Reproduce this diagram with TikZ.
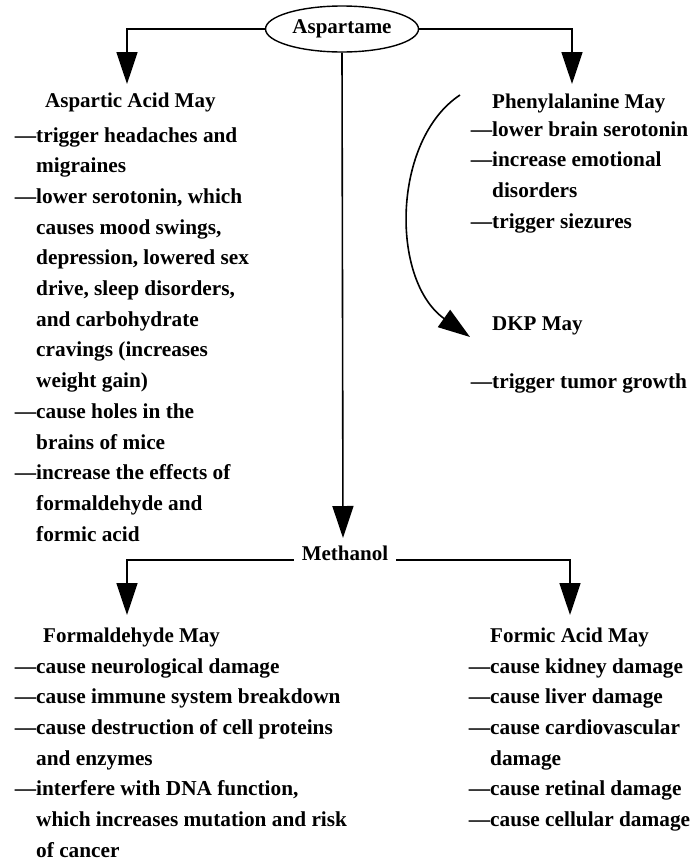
\documentclass[tikz,border=0pt]{standalone}
\usepackage{fontspec}
\setmainfont{Liberation Serif}
\usetikzlibrary{arrows.meta,shapes.geometric}

\tikzset{
  arr/.style={line width=1.6pt, -{Triangle[length=32pt,width=21pt]}},
  ttl/.style={anchor=base west, inner sep=0pt, font=\fontsize{21}{30}\selectfont\bfseries},
  lst/.style={anchor=base west, inner sep=0pt, font=\fontsize{21.3}{30.7}\selectfont\bfseries},
}
\newcommand\dsh{\llap{---}}
\newcommand\lines[1]{\vtop{\let\\=\cr\halign{##\hfil\cr#1\crcr}}}

\begin{document}
\begin{tikzpicture}[x=1pt,y=-1pt]
\useasboundingbox (0,0) rectangle (693,865);

\node[draw, ellipse, line width=1.4pt, minimum width=153pt, minimum height=46pt, inner sep=0pt,
  font=\fontsize{21}{30}\selectfont\bfseries] (asp) at (342,29) {Aspartame};

\coordinate (aat) at (127,84);
\coordinate (pat) at (572,84);
\coordinate (mtt) at (343,538);
\draw[arr] (asp.west) -| (aat);
\draw[arr] (asp.east) -| (pat);
\draw[arr] (asp.south) -- (mtt);

% aspartic acid
\node[ttl] (aa) at (45,107) {Aspartic Acid May};
\node[lst] (aalist) at (36,142) {\lines{\dsh trigger headaches and\\
migraines\\
\dsh lower serotonin, which\\
causes mood swings,\\
depression, lowered sex\\
drive, sleep disorders,\\
and carbohydrate\\
cravings (increases\\
weight gain)\\
\dsh cause holes in the\\
brains of mice\\
\dsh increase the effects of\\
formaldehyde and\\
formic acid}};

% phenylalanine and DKP
\node[ttl] (pa) at (492,108) {Phenylalanine May};
\node[lst] (palist) at (492,136) {\lines{\dsh lower brain serotonin\\
\dsh increase emotional\\
disorders\\
\dsh trigger siezures}};
\node[ttl] (dkp) at (492,330) {DKP May};
\node[lst] (dkplist) at (492,388) {\dsh trigger tumor growth};

\coordinate (pas) at (460,95);
\coordinate (dkt) at (470,337);
\draw[arr] (pas) .. controls (392,140) and (390,280) .. (dkt);

% methanol
\node[anchor=base, inner xsep=8pt, inner ysep=0pt, font=\fontsize{21}{30}\selectfont\bfseries] (meth) at (345,560) {Methanol};
\coordinate (fdt) at (127,615);
\coordinate (fmt) at (570,615);
\draw[arr] (meth.base west) -| (fdt);
\draw[arr] (meth.base east) -| (fmt);

\node[ttl] (fd) at (43,642) {Formaldehyde May};
\node[lst] (fdlist) at (36,673) {\lines{\dsh cause neurological damage\\
\dsh cause immune system breakdown\\
\dsh cause destruction of cell proteins\\
and enzymes\\
\dsh interfere with DNA function,\\
which increases mutation and risk\\
of cancer}};

\node[ttl] (fm) at (490,642) {Formic Acid May};
\node[lst] (fmlist) at (490,673) {\lines{\dsh cause kidney damage\\
\dsh cause liver damage\\
\dsh cause cardiovascular\\
damage\\
\dsh cause retinal damage\\
\dsh cause cellular damage}};

\end{tikzpicture}
\end{document}
